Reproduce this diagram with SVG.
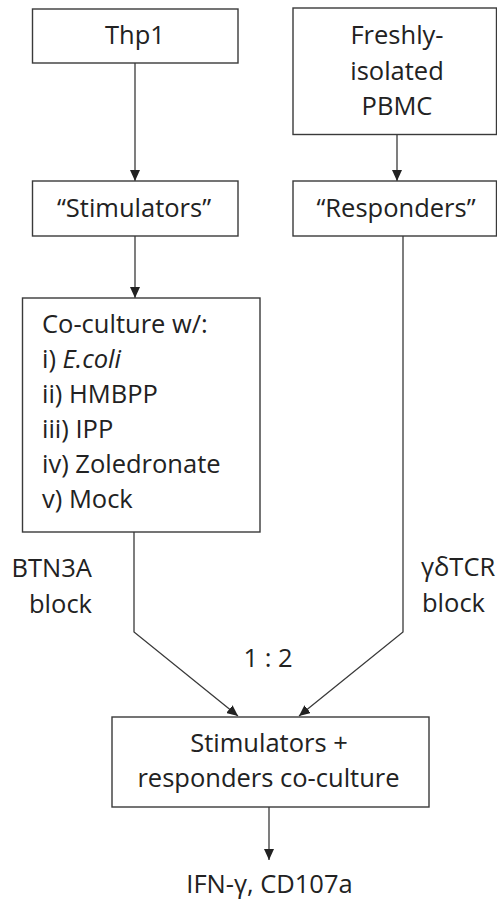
<svg xmlns="http://www.w3.org/2000/svg" width="497" height="902" viewBox="0 0 497 902">
<style>
.box{fill:#fff;stroke:#3a3a3a;stroke-width:1.4}
.t{font-family:"Open Sans","Liberation Sans",sans-serif;font-size:25.5px;fill:#222}
.c{text-anchor:middle}
.e{text-anchor:end}
.ln{fill:none;stroke:#3a3a3a;stroke-width:1.3}
</style>
<defs>
<marker id="ah" markerUnits="userSpaceOnUse" markerWidth="11" markerHeight="10" refX="11" refY="5" orient="auto">
<path d="M0,0 L11,5 L0,10 z" fill="#222"/>
</marker>
</defs>
<rect width="497" height="902" fill="#fff"/>
<g id="connectors">
<line class="ln" x1="135" y1="63" x2="135" y2="181" marker-end="url(#ah)"/>
<line class="ln" x1="397" y1="135" x2="397" y2="181" marker-end="url(#ah)"/>
<line class="ln" x1="135" y1="236" x2="135" y2="298" marker-end="url(#ah)"/>
<polyline class="ln" points="134,532 134,632 238,716" marker-end="url(#ah)"/>
<polyline class="ln" points="403,236 403,632 299,716" marker-end="url(#ah)"/>
<line class="ln" x1="269" y1="807" x2="269" y2="860" marker-end="url(#ah)"/>
</g>
<g id="thp1">
<rect class="box" x="32.5" y="9" width="205.5" height="54"/>
<text class="t c" x="135" y="43.5">Thp1</text>
</g>
<g id="pbmc">
<rect class="box" x="293" y="8" width="203.5" height="126.5"/>
<text class="t c" x="397" y="43.5">Freshly-</text>
<text class="t c" x="397" y="79.5">isolated</text>
<text class="t c" x="397" y="114.5">PBMC</text>
</g>
<g id="stimulators">
<rect class="box" x="32.5" y="181" width="205.5" height="55"/>
<text class="t c" x="134" y="216.5">“Stimulators”</text>
</g>
<g id="responders">
<rect class="box" x="293" y="181" width="203.5" height="55"/>
<text class="t c" x="396" y="216.5">“Responders”</text>
</g>
<g id="coculture">
<rect class="box" x="22.5" y="298" width="237.5" height="234"/>
<text class="t" x="42" y="333">Co-culture w/:</text>
<text class="t" x="42" y="368">i) <tspan font-style="italic">E.coli</tspan></text>
<text class="t" x="42" y="403">ii) HMBPP</text>
<text class="t" x="42" y="438">iii) IPP</text>
<text class="t" x="42" y="473">iv) Zoledronate</text>
<text class="t" x="42" y="508">v) Mock</text>
</g>
<g id="btn3a-label">
<text class="t e" x="92" y="577">BTN3A</text>
<text class="t e" x="92" y="612.5">block</text>
</g>
<g id="gdtcr-label">
<text class="t" x="421" y="576">γδTCR</text>
<text class="t" x="422" y="612">block</text>
</g>
<g id="ratio">
<text class="t c" x="268" y="666.5">1 : 2</text>
</g>
<g id="final">
<rect class="box" x="112" y="717" width="317" height="90"/>
<text class="t c" x="269" y="751.5">Stimulators +</text>
<text class="t c" x="268.5" y="786.5">responders co-culture</text>
</g>
<g id="output">
<text class="t c" x="269.5" y="893">IFN-γ, CD107a</text>
</g>
</svg>
